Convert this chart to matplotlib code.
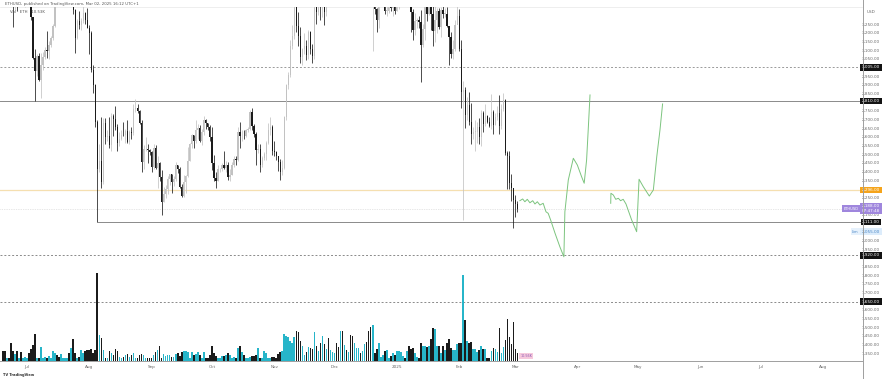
import numpy as np
import pandas as pd
import matplotlib
matplotlib.use("Agg")
import matplotlib.pyplot as plt
from matplotlib.lines import Line2D

# daily ETHUSD candles, 2024-06-19 .. 2025-03-02 (open = previous close)
start = pd.Timestamp("2024-06-19")
first_open = 3560

closes = [
    3558, 3516, 3518, 3493, 3420, 3354, 3395, 3372, 3448, 3378, 3378, 3435,
    3439, 3421, 3293, 3061, 2983, 3069, 2930, 3018, 3066, 3104, 3100, 3136, 3175, 3245, 3487, 3443,
    3389, 3427, 3505, 3518, 3535, 3440, 3482, 3336, 3175, 3275, 3248, 3270, 3319, 3280, 3232,
    3203, 2988, 2904, 2690, 2420, 2462, 2342, 2684, 2600, 2610, 2555, 2722, 2705, 2660, 2570, 2592,
    2615, 2612, 2636, 2574, 2632, 2625, 2765, 2770, 2750, 2683, 2460, 2530, 2530, 2525, 2514,
    2428, 2540, 2425, 2450, 2370, 2225, 2270, 2300, 2360, 2388, 2340, 2362, 2440, 2420, 2315,
    2260, 2340, 2375, 2465, 2560, 2615, 2580, 2645, 2655, 2580, 2630, 2700, 2680, 2660, 2600,
    2450, 2365, 2350, 2415, 2415, 2440, 2422, 2440, 2370, 2385, 2440, 2475, 2470, 2630, 2605, 2610,
    2605, 2642, 2648, 2745, 2665, 2620, 2525, 2535, 2440, 2480, 2505, 2570, 2640, 2660, 2520,
    2515, 2490, 2460, 2400, 2425, 2720, 2900, 2960, 3130, 3185, 3370, 3245, 3185, 3065, 3110,
    3130, 3075, 3210, 3110, 3070, 3355, 3325, 3395, 3360, 3415, 3325, 3650, 3580, 3590, 3705,
    3705, 3645, 3615, 3835, 3785, 4000, 3995, 4005, 3715, 3630, 3835, 3880, 3910, 3875, 3960, 3990,
    3880, 3620, 3420, 3475, 3340, 3280, 3420, 3490, 3490, 3330, 3330, 3400, 3350, 3360, 3330,
    3355, 3450, 3610, 3655, 3635, 3685, 3380, 3325, 3220, 3270, 3280, 3265, 3135, 3225, 3450, 3310,
    3475, 3310, 3215, 3280, 3330, 3240, 3335, 3315, 3315, 3245, 3180, 3080, 3110, 3250, 3300,
    3110, 2860, 2875, 2730, 2785, 2690, 2620, 2630, 2630, 2660, 2600, 2740, 2675, 2725, 2690,
    2665, 2745, 2670, 2715, 2740, 2665, 2765, 2815, 2510, 2495, 2335, 2305, 2240, 2215, 2188,
]
highs = [
    3625, 3625, 3550, 3530, 3515, 3425, 3430, 3425, 3480, 3490, 3395, 3460,
    3525, 3465, 3425, 3295, 3110, 3080, 3090, 3090, 3095, 3120, 3215, 3155, 3185, 3255, 3500, 3500,
    3515, 3490, 3515, 3540, 3545, 3565, 3540, 3490, 3340, 3285, 3330, 3290, 3400, 3325, 3350,
    3250, 3215, 3020, 2910, 2700, 2560, 2720, 2710, 2710, 2640, 2720, 2740, 2735, 2780, 2675, 2630,
    2640, 2690, 2650, 2700, 2640, 2660, 2790, 2820, 2795, 2760, 2700, 2555, 2600, 2560, 2530,
    2520, 2560, 2555, 2490, 2460, 2410, 2315, 2325, 2375, 2390, 2390, 2375, 2460, 2440, 2430,
    2330, 2385, 2385, 2545, 2565, 2620, 2615, 2700, 2675, 2670, 2650, 2725, 2705, 2685, 2670,
    2660, 2500, 2400, 2440, 2425, 2450, 2520, 2465, 2460, 2420, 2460, 2490, 2490, 2660, 2690, 2640,
    2640, 2650, 2660, 2760, 2770, 2675, 2630, 2560, 2560, 2490, 2515, 2580, 2680, 2720, 2670,
    2580, 2520, 2495, 2475, 2470, 2725, 2910, 2975, 3160, 3250, 3380, 3445, 3325, 3240, 3115,
    3200, 3160, 3220, 3215, 3140, 3370, 3345, 3440, 3425, 3540, 3440, 3680, 3650, 3630, 3735,
    3760, 3730, 3670, 3880, 3940, 4085, 4020, 4020, 4010, 3790, 3850, 3990, 3945, 3925, 3965, 4100,
    4055, 3920, 3710, 3480, 3540, 3345, 3430, 3530, 3550, 3520, 3465, 3420, 3410, 3430, 3450,
    3365, 3490, 3620, 3675, 3675, 3745, 3700, 3410, 3340, 3320, 3290, 3300, 3335, 3255, 3470, 3460,
    3525, 3480, 3450, 3450, 3350, 3345, 3355, 3425, 3345, 3355, 3245, 3210, 3165, 3280, 3440,
    3340, 3160, 2925, 2890, 2835, 2860, 2800, 2660, 2700, 2690, 2710, 2760, 2750, 2790, 2730,
    2720, 2850, 2760, 2740, 2780, 2845, 2790, 2855, 2820, 2520, 2520, 2390, 2310, 2265, 2235,
]
lows = [
    3470, 3490, 3440, 3475, 3405, 3240, 3335, 3330, 3365, 3365, 3370, 3355,
    3420, 3405, 3280, 3055, 2810, 2955, 2925, 2825, 2990, 3050, 3060, 3050, 3120, 3165, 3235, 3380,
    3370, 3375, 3365, 3485, 3460, 3415, 3410, 3310, 3090, 3170, 3225, 3220, 3260, 3255, 3230,
    3080, 2975, 2855, 2660, 2111, 2400, 2310, 2330, 2560, 2580, 2540, 2520, 2610, 2640, 2520, 2550,
    2585, 2605, 2565, 2565, 2560, 2590, 2615, 2745, 2740, 2675, 2400, 2420, 2520, 2450, 2500,
    2400, 2420, 2420, 2310, 2350, 2150, 2225, 2250, 2275, 2325, 2280, 2320, 2345, 2395, 2310,
    2255, 2255, 2280, 2370, 2465, 2540, 2540, 2570, 2590, 2575, 2555, 2615, 2650, 2640, 2580,
    2410, 2350, 2310, 2350, 2400, 2405, 2415, 2400, 2355, 2345, 2380, 2430, 2440, 2465, 2540, 2580,
    2590, 2600, 2630, 2640, 2640, 2600, 2440, 2510, 2400, 2430, 2470, 2470, 2560, 2615, 2500,
    2490, 2470, 2405, 2355, 2380, 2415, 2700, 2880, 2950, 3110, 3170, 3210, 3125, 3030, 3020,
    3080, 3045, 3055, 3080, 3030, 3050, 3255, 3305, 3280, 3295, 3250, 3300, 3540, 3555, 3580,
    3640, 3550, 3500, 3610, 3750, 3680, 3965, 3930, 3530, 3520, 3620, 3820, 3855, 3840, 3850, 3920,
    3860, 3590, 3365, 3100, 3310, 3210, 3230, 3390, 3450, 3310, 3300, 3320, 3330, 3300, 3310,
    3330, 3340, 3440, 3600, 3600, 3620, 3360, 3210, 3160, 3190, 3230, 3230, 2920, 3120, 3160, 3270,
    3305, 3220, 3130, 3150, 3200, 3225, 3180, 3290, 3295, 3235, 3020, 3060, 3050, 3100, 3260,
    3100, 2770, 2120, 2655, 2700, 2670, 2560, 2590, 2520, 2570, 2560, 2550, 2630, 2665, 2680,
    2660, 2650, 2620, 2670, 2700, 2620, 2650, 2750, 2500, 2300, 2300, 2230, 2075, 2140, 2170,
]
vol_k = [
    10, 10, 3, 3, 18, 10, 7, 10, 3, 9, 3, 4, 3, 8, 12, 16, 27, 3, 3, 14, 3, 4, 3, 5, 3,
    10, 8, 6, 4, 7, 3, 3, 3, 8, 13, 22, 8, 3, 4, 11, 8, 10, 11, 11, 12, 8, 11, 88, 26, 23,
    11, 3, 3, 10, 8, 6, 12, 10, 4, 3, 4, 6, 7, 4, 6, 8, 3, 3, 6, 7, 6, 3, 3, 3, 3,
    6, 9, 11, 15, 3, 7, 5, 6, 6, 4, 4, 7, 8, 5, 9, 10, 10, 9, 3, 9, 6, 7, 9, 6, 3,
    9, 3, 3, 6, 15, 8, 5, 3, 3, 5, 5, 6, 8, 6, 3, 4, 3, 13, 15, 9, 6, 3, 3, 4, 5,
    5, 6, 13, 3, 3, 10, 8, 3, 3, 4, 4, 3, 7, 9, 10,
    27, 25, 24, 20, 18, 24, 30, 29, 20, 15, 6, 9, 14, 13, 12, 29, 15, 10, 18, 25,
    17, 12, 23, 11, 9, 8, 18, 14, 30, 30, 16, 11, 9, 26, 25, 18, 13, 13, 8, 10, 17, 19, 30, 34, 36,
    8, 12, 18, 4, 6, 10, 11, 3, 5, 8, 6, 10, 10, 9, 5, 3, 10, 15, 12, 13, 8, 4, 3, 18, 15,
    15, 14, 15, 22, 33, 32, 15, 15, 8, 15, 11, 18, 22, 13, 11, 11, 17, 18, 18, 86, 41, 20, 18, 19, 12,
    12, 9, 11, 15, 12, 12, 3, 3, 10, 13, 12, 9, 33, 8, 14, 21, 42, 24, 17, 39, 12, 8,
]

# drawn projection paths (days after 2025-03-02, price)
path1_days = [1.2, 2.6, 3.7, 4.9, 6.2, 7.6, 8.7, 9.9, 11.2, 12.8, 14.2, 15.3, 16.5, 18.7, 21.1,
              23.1, 23.6, 25.3, 27.8, 29.8, 31.9, 33.2, 34.4, 35.2, 36.1]
path1_price = [2234, 2244, 2228, 2242, 2222, 2234, 2215, 2228, 2209, 2219, 2170, 2161, 2123, 2046, 1968,
               1910, 2170, 2354, 2479, 2440, 2373, 2335, 2469, 2642, 2845]
path2_days = [46.4, 46.5, 47.7, 48.9, 50.2, 51.3, 52.6, 54.0, 56.8, 59.3, 60.5, 62.6, 65.6, 67.6,
              69.3, 70.9, 72.2]
path2_price = [2219, 2277, 2267, 2242, 2248, 2234, 2242, 2215, 2123, 2055, 2358, 2315, 2261, 2296,
               2488, 2642, 2793]

# horizontal levels
lvl_dash_top = 3005
lvl_top = 2810
lvl_orange = 2296
lvl_bottom = 2111
lvl_lim = 2055
lvl_dash_1 = 1920
lvl_dash_2 = 1650

month_dates = ["2024-07-01", "2024-08-01", "2024-09-01", "2024-10-01", "2024-11-01", "2024-12-01",
               "2025-01-01", "2025-02-01", "2025-03-01", "2025-04-01", "2025-05-01", "2025-06-01",
               "2025-07-01", "2025-08-01"]
month_labels = ["Jul", "Aug", "Sep", "Oct", "Nov", "Dec", "2025", "Feb", "Mar", "Apr", "May", "Jun",
                "Jul", "Aug"]

assert len(closes) == len(highs) == len(lows) == len(vol_k) == 257

closes = np.array(closes, float)
opens = np.concatenate([[first_open], closes[:-1]])
x = np.arange(len(closes))
up = closes >= opens
c_up, c_dn = "#c2c2c2", "#1b1b1b"
cols = np.where(up, c_up, c_dn)

W, H = 882, 379
fig = plt.figure(figsize=(W / 100, H / 100), dpi=100)
fig.patch.set_facecolor("white")
ax = fig.add_axes([0, 18 / H, 862 / W, 354 / H])
ax2 = ax.twinx()

# volume overlay
vcols = np.where(up, "#27b5c9", "#1b1b1b")
ax2.bar(x, vol_k, width=0.8, color=vcols, lw=0, zorder=1)
ax2.set_ylim(0, max(vol_k) / 0.249)
ax2.axis("off")

# candles
ax.vlines(x, lows, highs, colors=cols, lw=0.55, zorder=3)
body_lo = np.minimum(opens, closes)
body_h = np.maximum(np.abs(closes - opens), 4)
ax.bar(x, body_h, bottom=body_lo, width=0.62, color=cols, lw=0, zorder=4)

last = len(closes) - 1
ax.axhline(lvl_dash_top, color="#9a9a9a", lw=0.7, ls=(0, (2, 2)), zorder=2)
ax.axhline(lvl_top, color="#8a8a8a", lw=0.7, zorder=2)
ax.axhline(lvl_orange, color="#f5dfb0", lw=0.9, zorder=2)
ax.axhline(closes[-1], color="#cfcfcf", lw=0.5, ls=(0, (1, 1.5)), zorder=2)
ax.hlines(lvl_bottom, 47, 440, color="#8a8a8a", lw=0.7, zorder=2)
ax.axhline(lvl_dash_1, color="#8a8a8a", lw=0.7, ls=(0, (2, 2)), zorder=2)
ax.axhline(lvl_dash_2, color="#8a8a8a", lw=0.7, ls=(0, (2, 2)), zorder=2)

# projection paths
ax.plot(last + np.array(path1_days), path1_price, color="#7cc47e", lw=0.7, zorder=5)
ax.plot(last + np.array(path2_days), path2_price, color="#7cc47e", lw=0.7, zorder=5)

ax.set_xlim(-1.4, 427.4)
ax.set_ylim(1308, 3353)
ax.set_xticks([])
ax.set_yticks([])
for s in ["left", "right"]:
    ax.spines[s].set_visible(False)
ax.spines["top"].set_color("#e8e8e8")
ax.spines["top"].set_linewidth(0.5)
ax.spines["bottom"].set_color("#9e9e9e")
ax.spines["bottom"].set_linewidth(0.7)

# price scale
fs = 3.0
ytr = ax.get_yaxis_transform()
xc = 871 / 862
boxes = [lvl_dash_top, lvl_top, lvl_orange, closes[-1], lvl_bottom, lvl_lim, lvl_dash_1, lvl_dash_2]
for p in np.arange(1350, 3300, 50):
    if min(abs(p - b) for b in boxes) < 30:
        continue
    ax.text(xc, p, f"{p:,.2f}", transform=ytr, ha="center", va="center", fontsize=fs, color="#666666",
            clip_on=False)

def box(p, txt, fc, tc="white"):
    ax.text(xc, p, txt, transform=ytr, ha="center", va="center", fontsize=fs, color=tc, clip_on=False,
            bbox=dict(boxstyle="square,pad=0.35", fc=fc, ec="none"))

for p in [lvl_dash_top, lvl_top, lvl_bottom, lvl_dash_1, lvl_dash_2]:
    box(p, f"{p:,.2f}", "#131313")
box(lvl_orange, f"{lvl_orange:,.2f}", "#f5a41b")
box(closes[-1], f"{closes[-1]:,.2f}\n07:47:48", "#9f86dd")
box(lvl_lim, f"{lvl_lim:,.2f}", "#dcecfb", tc="#4a86c5")
ax.text(0.996, closes[-1], "ETHUSD", transform=ytr, ha="right", va="center", fontsize=2.6,
        color="white", bbox=dict(boxstyle="square,pad=0.35", fc="#9f86dd", ec="none"))
ax.text(0.996, lvl_lim, "Lim", transform=ytr, ha="right", va="center", fontsize=2.6, color="#4a86c5",
        bbox=dict(boxstyle="square,pad=0.35", fc="#e6f1fc", ec="none"))
ax2.text(last + 1.5, 3, f"{vol_k[-1] * 1.32:.2f}K", ha="left", va="bottom", fontsize=2.4,
         color="#8e5bb5", bbox=dict(boxstyle="square,pad=0.3", fc="#f6c9dc", ec="none"))

# time axis
xtr = ax.get_xaxis_transform()
for d, lab in zip(month_dates, month_labels):
    xi = (pd.Timestamp(d) - start).days
    ax.text(xi, -6 / 354, lab, transform=xtr, ha="center", va="center", fontsize=fs, color="#666666",
            clip_on=False)

fig.add_artist(Line2D([862.5 / W] * 2, [0, 1], color="#9e9e9e", lw=0.7))
fig.text(871 / W, 1 - 12 / H, "USD", ha="center", va="center", fontsize=fs, color="#666666")
fig.text(5 / W, 1 - 4 / H, "ETHUSD, published on TradingView.com, Mar 02, 2025 16:12 UTC+1",
         ha="left", va="center", fontsize=2.8, color="#555555")
fig.text(10 / W, 1 - 12 / H, "Vol · ETH   10.53K", ha="left", va="center", fontsize=2.8, color="#555555")
fig.text(3 / W, 1 - 375 / H, "TV TradingView", ha="left", va="center", fontsize=2.6, color="#333333",
         fontweight="bold")

fig.savefig("out.png", dpi=100, facecolor="white")
